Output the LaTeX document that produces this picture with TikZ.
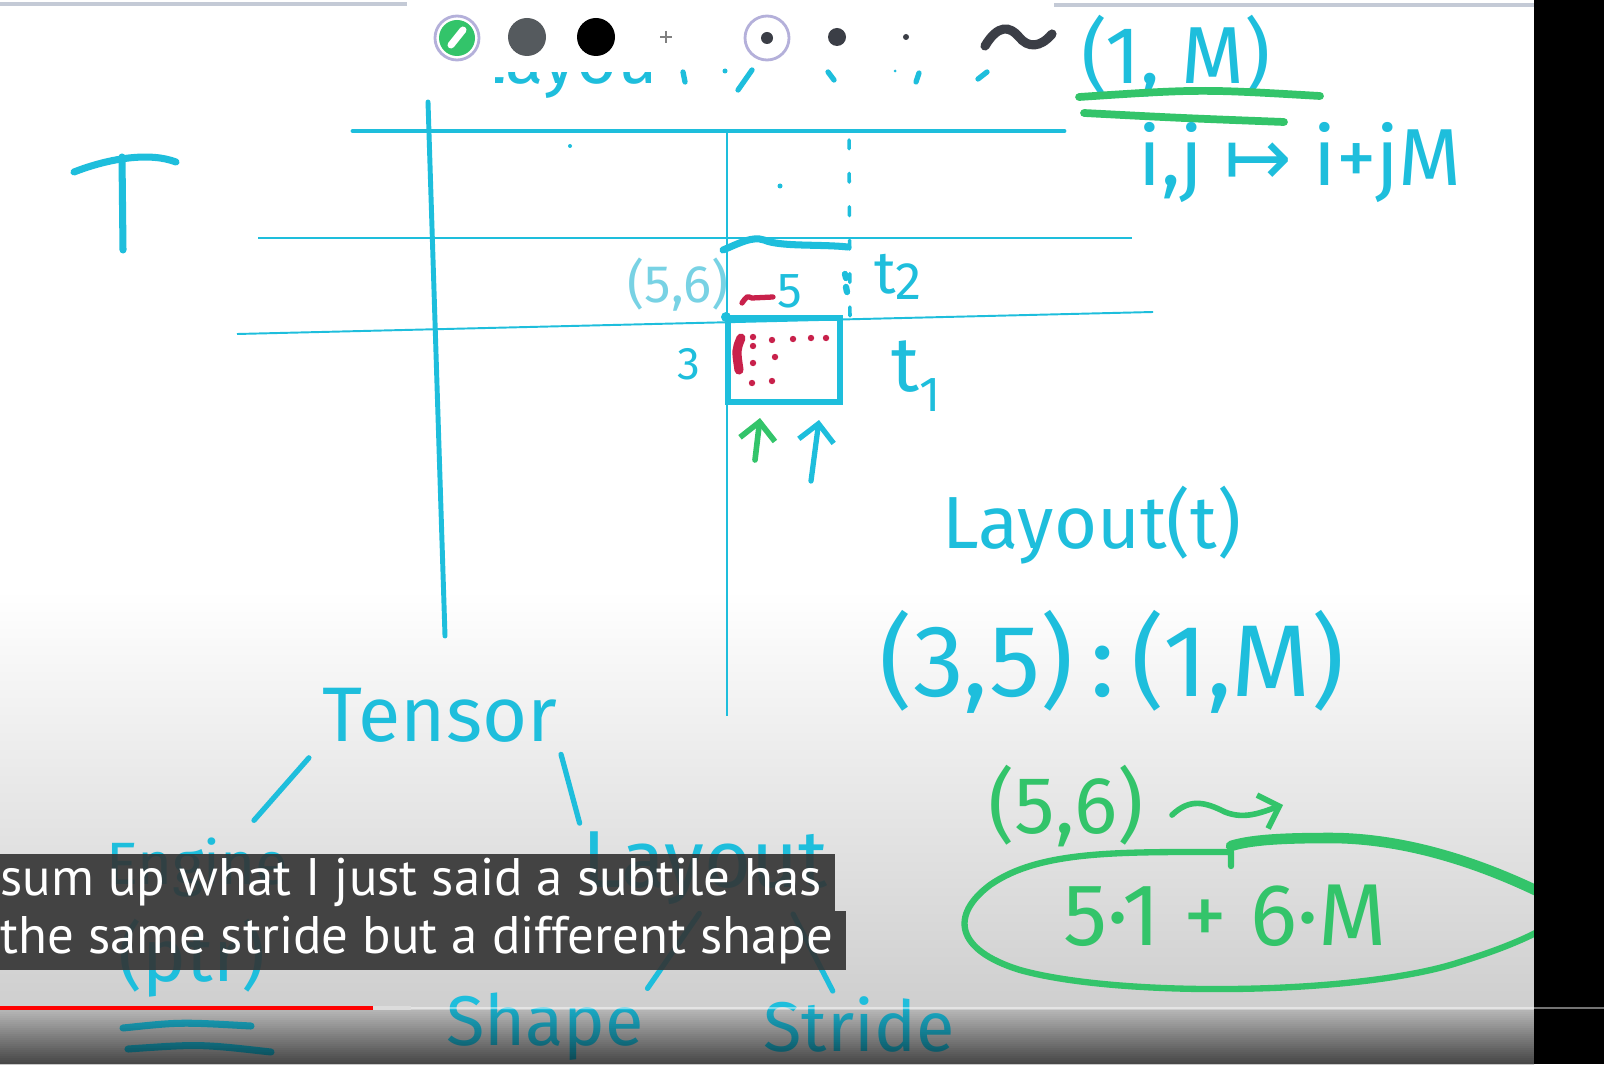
\documentclass[tikz,border=0pt]{standalone}
\usepackage{fontspec}
\usepackage{graphicx}
\usetikzlibrary{arrows.meta,positioning}
\newfontfamily\handfont{Fira Sans}
\newfontfamily\capfont{PT Sans}
\newfontfamily\symfont{DejaVu Sans}
\newcommand{\handsz}[1]{\handfont\fontsize{#1}{#1}\selectfont}
\definecolor{inkcyan}{HTML}{1EBEDC}
\definecolor{inkpale}{HTML}{78D2E4}
\definecolor{inkgreen}{HTML}{33C46A}
\definecolor{inkred}{HTML}{C8214B}
\definecolor{toolring}{HTML}{B4B0DA}
\definecolor{tooldark}{HTML}{3B3E46}
\definecolor{capgray}{HTML}{333333}
\tikzset{
  ink/.style={draw=inkcyan, line width=1.5pt, line cap=round, line join=round},
  gridthin/.style={draw=inkcyan, line width=0.55pt},
  gridbold/.style={draw=inkcyan, line width=1.4pt, line cap=round},
  greenink/.style={draw=inkgreen, line width=1.6pt, line cap=round, line join=round},
  redink/.style={draw=inkred, line width=1.5pt, line cap=round},
  hand/.style={text=inkcyan, inner sep=0pt},
  greenhand/.style={text=inkgreen, inner sep=0pt},
  capbox/.style={
    anchor=west,
    fill=capgray,
    fill opacity=0.9,
    text opacity=1,
    text=white,
    font=\capfont,
    inner xsep=0.13cm,
    inner ysep=0pt
  },
  barb/.style={-{Straight Barb[length=5pt,width=10pt]}}
}
\begin{document}
\begin{tikzpicture}[x=0.01cm, y=-0.01cm]
  \useasboundingbox (0,0) rectangle (1604,1064);
  % screen
  \fill[white] (0,0) rectangle (1604,1064);
  \shade[top color=white, bottom color={rgb,255:red,200;green,200;blue,200}] (0,590) rectangle (1534,1064);
  \draw[line width=0.9pt, color={rgb,255:red,196;green,202;blue,214}] (0,4) -- (407,4);
  \draw[line width=0.9pt, color={rgb,255:red,196;green,202;blue,214}] (1054,5) -- (1534,5);
  % toolbar
  \fill[white] (457,38) circle (23);
  \draw[toolring, line width=0.8pt] (457,38) circle (22);
  \fill[inkgreen] (457,38) circle (18);
  \draw[white, line width=2pt, line cap=round] (451,45) -- (463,30);
  \fill[color={rgb,255:red,85;green,90;blue,94}] (527,37) circle (19);
  \fill[black] (596,37) circle (19);
  \draw[gray, line width=0.6pt] (660,37) -- (672,37) (666,31) -- (666,43);
  \draw[toolring, line width=0.8pt] (767,38) circle (22);
  \fill[tooldark] (767,38) circle (6);
  \fill[tooldark] (837,37) circle (9);
  \fill[tooldark] (906,37) circle (3);
  \draw[tooldark, line width=2.6pt, line cap=round] (985,46) .. controls (998,24) and (1010,26) .. (1019,37) .. controls (1028,48) and (1040,48) .. (1052,34);
  % line hidden under the toolbar
  \begin{scope}
    \clip (495,73) rectangle (650,115);
    \node[hand, font=\handsz{20}, anchor=base west] (hidden) at (470,84) {Layout};
  \end{scope}
  \draw[ink] (683,72) -- (685,82);
  \fill[inkcyan] (725,71) circle (2.5);
  \draw[ink] (752,70) -- (738,90);
  \draw[ink] (828,72) -- (834,80);
  \fill[inkcyan] (895,71) circle (1.5);
  \draw[ink] (919,73) -- (916,82);
  \draw[ink] (987,72) -- (978,79);
  % big T
  \draw[ink, line width=2pt] (74,172) .. controls (110,158) and (150,152) .. (176,162);
  \draw[ink, line width=2pt] (122,157) -- (123,250);
  % grid
  \draw[gridbold] (353,131) -- (1064,131);
  \draw[gridbold] (428,102) -- (445,636);
  \draw[gridthin] (727,133) -- (727,716);
  \draw[gridthin] (258,238) -- (1132,238);
  \draw[gridthin] (237,334) -- (1153,312);
  \draw[inkcyan, line width=1pt, line cap=round, dash pattern=on 2.5pt off 7pt] (849,140) -- (850,318);
  \draw[inkcyan, line width=1.8pt, line cap=round] (845,274) -- (846,278) (846,287) -- (847,292);
  \fill[inkcyan] (570,146) circle (2);
  \fill[inkcyan] (780,186) circle (2.5);
  % tile
  \draw[ink, line width=2pt] (723,250) .. controls (740,243) and (752,236) .. (764,240) .. controls (780,247) and (820,244) .. (848,247);
  \draw[gridbold, line width=1.7pt] (728,318) rectangle (840,402);
  \fill[inkcyan] (726,317) circle (5);
  \node[hand, font=\handsz{15}, text=inkpale] (pos) at (678,285) {(5,6)};
  \node[hand, font=\handsz{14}] (cols) at (790,291) {5};
  \draw[redink] (742,303) .. controls (747,296) .. (752,298) -- (773,297);
  \node[hand, font=\handsz{17}] (ttwo) at (898,277) {t\raisebox{-0.1em}{\handsz{15}2}};
  \node[hand, font=\handsz{13}] (rows) at (689,364) {3};
  \node[hand, font=\handsz{22}] (tone) at (916,376) {t\raisebox{-0.25em}{\handsz{14}1}};
  \draw[redink, line width=2.6pt] (741,338) .. controls (736,350) .. (739,370);
  \foreach \p in {(753,337),(753,346),(772,340),(793,339),(811,338),(826,338),(775,357),(753,363),(752,383),(772,381)}
    \fill[inkred] \p circle (3.2);
  \draw[greenink, barb] (755,460) -- (760,418);
  \draw[ink, barb] (811,481) -- (819,420);
  % layout of the matrix
  \node[hand, font=\handsz{23}] (one) at (1176,56) {(1, M)};
  \draw[greenink, line width=2.2pt] (1079,97) .. controls (1200,89) .. (1320,96);
  \draw[greenink, line width=2.2pt] (1084,113) .. controls (1180,118) .. (1284,122);
  \node[hand, font=\handsz{23}] (map) at (1300,163) {i,j {\symfont ↦} i+jM};
  \node[hand, font=\handsz{21}] (lay) at (1092,525) {Layout(t)};
  \node[hand, font=\handsz{29}] (shst) at (1112,662) {(3,5)\,:\,(1,M)};
  \node[greenhand, font=\handsz{23}] (coord) at (1066,806) {(5,6)};
  \draw[greenink, barb] (1172,815) .. controls (1190,798) and (1205,802) .. (1225,812) .. controls (1245,820) and (1262,812) .. (1283,805);
  \node[greenhand, font=\handsz{25}] (offs) at (1225,916) {5·1 + 6·M};
  \draw[greenink, line width=1.8pt] (1231,866) -- (1231,852) .. controls (1120,852) and (1040,850) .. (990,885) .. controls (950,915) and (955,950) .. (1020,970) .. controls (1120,998) and (1360,995) .. (1460,962) .. controls (1515,945) and (1545,930) .. (1565,915);
  \draw[greenink, line width=3pt] (1565,905) .. controls (1480,860) and (1400,838) .. (1330,838) .. controls (1280,838) and (1250,840) .. (1231,846);
  % tensor tree
  \node[hand, font=\handsz{22}] (tensor) at (440,715) {Tensor};
  \node[hand, font=\handsz{17}] (engine) at (197,868) {Engine};
  \node[hand, font=\handsz{21}] (ptr) at (192,958) {(ptr)};
  \node[hand, font=\handsz{23}] (layb) at (705,868) {Layout};
  \node[hand, font=\handsz{20}] (shape) at (545,1027) {Shape};
  \node[hand, font=\handsz{20}] (stride) at (859,1024) {Stride};
  \draw[ink, shorten <=0.2cm, shorten >=0.23cm] (tensor.south west) -- (engine.36);
  \draw[ink, shorten <=0.12cm, shorten >=0.08cm] (tensor.south east) -- (layb.north west);
  \draw[ink, shorten <=0.1cm, shorten >=0.05cm] (layb.south) -- (shape.north east);
  \draw[ink, shorten <=0.1cm, shorten >=0.05cm] (layb.-24) -- (stride.130);
  \draw[ink, line width=2pt] (123,1028) .. controls (180,1022) .. (251,1026);
  \draw[ink, line width=2pt] (128,1049) .. controls (200,1044) .. (271,1052);
  % caption
  \node[capbox, minimum height=0.57cm] (capa) at (-13,882.5) {\resizebox{8.21cm}{!}{sum up what I just said a subtile has}};
  \node[capbox, minimum height=0.59cm] (capb) at (-13,940.5) {\resizebox{8.32cm}{!}{the same stride but a different shape}};
  % player bottom
  \foreach \k in {0,...,26}
    \fill[black, opacity={0.12+\k*0.02}] (0,{1010+\k*2}) rectangle (1534,{1012+\k*2});
  \fill[black] (1534,0) rectangle (1604,1064);
  \draw[line width=0.8pt, color=white, opacity=0.45] (411,1008) -- (1604,1008);
  \draw[line width=1.4pt, color={rgb,255:red,220;green,220;blue,220}] (373,1008) -- (411,1008);
  \draw[line width=1.4pt, red] (0,1008) -- (373,1008);
\end{tikzpicture}
\end{document}
